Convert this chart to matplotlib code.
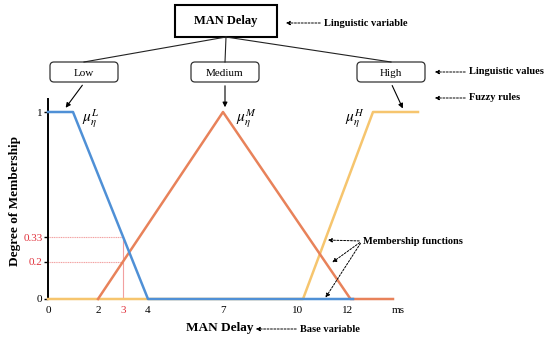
import matplotlib.pyplot as plt
from matplotlib.patches import FancyBboxPatch, Rectangle

plt.rcParams['font.family'] = ['Liberation Serif', 'DejaVu Serif']
plt.rcParams['mathtext.fontset'] = 'stix'

# membership function break points (ms, degree)
low_x = [0, 1, 4, 12.2]
low_y = [1, 1, 0, 0]
med_x = [2, 7, 12.1, 13.8]
med_y = [0, 1, 0, 0]
high_x = [0, 10.2, 13.0, 14.8]
high_y = [0, 0, 1, 1]

x_ticks = [0, 2, 3, 4, 7, 10, 12]
y_ticks = [0, 0.2, 0.33, 1]
y_tick_labels = ['0', '0.2', '0.33', '1']
crisp_x = 3
mu_low, mu_med = 0.33, 0.2

terms = ['Low', 'Medium', 'High']

c_low = '#4F90D6'
c_med = '#E8825A'
c_high = '#F6C56E'
c_red = '#E0303A'
c_guide = '#F2A0A0'

W, H = 550, 342
fig = plt.figure(figsize=(W / 100, H / 100), dpi=100)

# plot area in pixel coordinates: x=0 -> 48px, 25px per ms, y=0 -> 299px, y=1 -> 112px
px0, py0, sx, sy = 48, 299, 25, 187
xmax, ymax = 16, 1.07
ax = fig.add_axes([px0 / W, (H - py0) / H, xmax * sx / W, ymax * sy / H])
ax.set_xlim(0, xmax)
ax.set_ylim(0, ymax)

ax.plot(high_x, high_y, color=c_high, lw=1.8, clip_on=False, zorder=3)
ax.plot(med_x, med_y, color=c_med, lw=1.8, clip_on=False, zorder=3)
ax.plot(low_x, low_y, color=c_low, lw=1.8, clip_on=False, zorder=4)

# guide lines for the crisp input
ax.plot([0, crisp_x], [mu_low, mu_low], color=c_guide, lw=0.8, ls=(0, (1, 0.6)), zorder=2)
ax.plot([0, crisp_x], [mu_med, mu_med], color=c_guide, lw=0.8, ls=(0, (1, 0.6)), zorder=2)
ax.plot([crisp_x, crisp_x], [0, mu_low], color=c_guide, lw=0.8, zorder=2)

for s in ['top', 'right', 'bottom']:
    ax.spines[s].set_visible(False)
ax.spines['left'].set_linewidth(1.4)

ax.set_yticks(y_ticks)
ax.set_yticklabels(y_tick_labels, fontsize=8)
ax.tick_params(axis='y', length=3, width=1, pad=1)
for lab, v in zip(ax.get_yticklabels(), y_ticks):
    if v in (mu_low, mu_med):
        lab.set_color(c_red)

ax.set_xticks(x_ticks + [14])
ax.set_xticklabels([str(v) for v in x_ticks] + ['ms'], fontsize=8)
ax.tick_params(axis='x', length=0, pad=5)
for lab, v in zip(ax.get_xticklabels(), x_ticks + [14]):
    if v == crisp_x:
        lab.set_color(c_red)

# overlay for the diagram, pixel coordinates
ov = fig.add_axes([0, 0, 1, 1], zorder=5)
ov.set_xlim(0, W)
ov.set_ylim(H, 0)
ov.axis('off')
ov.patch.set_alpha(0)

ov.add_patch(Rectangle((175, 5), 102, 32, fill=False, lw=1.5, ec='black'))
ov.text(226, 21, 'MAN Delay', ha='center', va='center', fontsize=9, fontweight='bold')

box_cx = [84, 225, 391]
for cx, t in zip(box_cx, terms):
    ov.add_patch(FancyBboxPatch((cx - 34, 62), 68, 20,
                                boxstyle='round,pad=0,rounding_size=4',
                                fill=False, lw=0.9, ec='#333333'))
    ov.text(cx, 73, t, ha='center', va='center', fontsize=8)
    ov.plot([226, cx], [37, 62], color='#222222', lw=0.8)

arrow_kw = dict(arrowstyle='-|>', color='black', lw=0.8, mutation_scale=7)
ov.annotate('', xy=(64, 110), xytext=(84, 83), arrowprops=arrow_kw)
ov.annotate('', xy=(225, 110), xytext=(225, 83), arrowprops=arrow_kw)
ov.annotate('', xy=(404, 111), xytext=(391, 83), arrowprops=arrow_kw)

ov.text(82, 119, r'$\mu_{\eta}^{L}$', ha='left', va='center', fontsize=11)
ov.text(236, 119, r'$\mu_{\eta}^{M}$', ha='left', va='center', fontsize=11)
ov.text(345, 119, r'$\mu_{\eta}^{H}$', ha='left', va='center', fontsize=11)

dash_kw = dict(arrowstyle='-|>', color='black', lw=0.7, ls=(0, (2, 1.5)), mutation_scale=6)
notes = [(283, 23, 323, 'Linguistic variable'),
         (432, 72, 468, 'Linguistic values'),
         (432, 98, 468, 'Fuzzy rules'),
         (253, 329, 299, 'Base variable')]
for ax_, ay, tx, t in notes:
    ov.annotate('', xy=(ax_, ay), xytext=(tx, ay), arrowprops=dash_kw)
    ov.text(tx + 1, ay, t, ha='left', va='center', fontsize=7.5, fontweight='bold')

ov.text(363, 241, 'Membership functions', ha='left', va='center', fontsize=7.5, fontweight='bold')
for tx, ty in [(325, 240), (330, 264), (324, 300)]:
    ov.annotate('', xy=(tx, ty), xytext=(362, 241), arrowprops=dash_kw)

ov.text(220, 328, 'MAN Delay', ha='center', va='center', fontsize=9.5, fontweight='bold')
ov.text(15, 201, 'Degree of Membership', ha='center', va='center', rotation=90,
        fontsize=9.5, fontweight='bold')

fig.savefig('out.png', dpi=100)
